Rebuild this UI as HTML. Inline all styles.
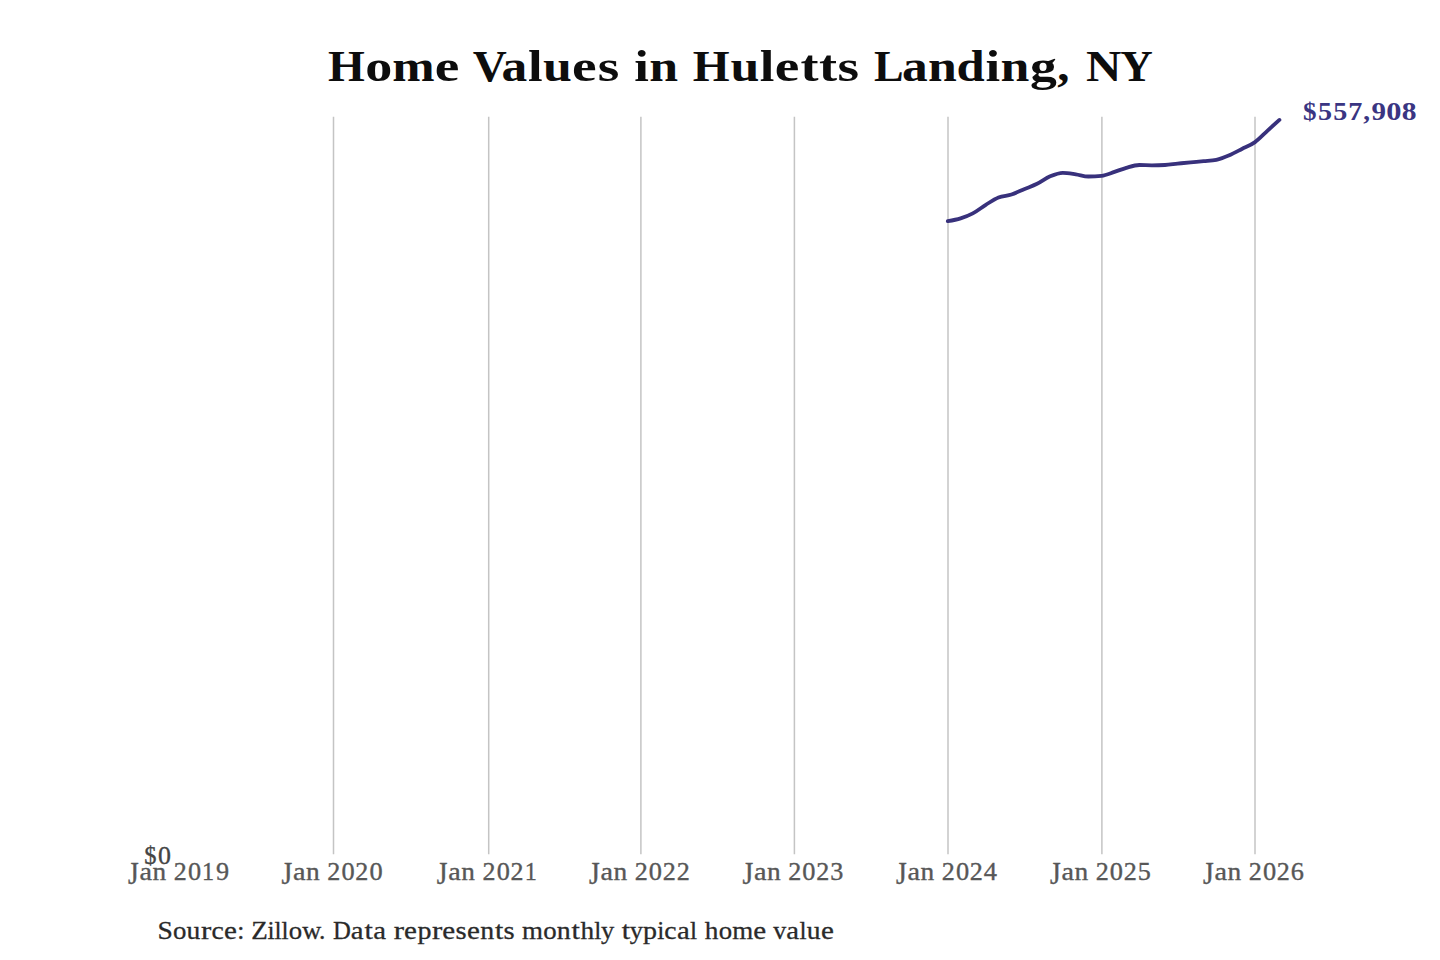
<!DOCTYPE html>
<html><head><meta charset="utf-8"><title>Home Values in Huletts Landing, NY</title>
<style>
html,body{margin:0;padding:0;background:#fff;width:1440px;height:960px;overflow:hidden}
svg{position:absolute;left:0;top:0;display:block}
text{font-family:"Liberation Serif", serif;white-space:pre}
</style></head><body>
<svg width="1440" height="960" viewBox="0 0 1440 960">
<rect width="1440" height="960" fill="#fff"/>
<line x1="333.5" y1="116.8" x2="333.5" y2="854.2" stroke="#c4c4c4" stroke-width="1.5"/>
<line x1="488.7" y1="116.8" x2="488.7" y2="854.2" stroke="#c4c4c4" stroke-width="1.5"/>
<line x1="640.9" y1="116.8" x2="640.9" y2="854.2" stroke="#c4c4c4" stroke-width="1.5"/>
<line x1="794.4" y1="116.8" x2="794.4" y2="854.2" stroke="#c4c4c4" stroke-width="1.5"/>
<line x1="948.0" y1="116.8" x2="948.0" y2="854.2" stroke="#c4c4c4" stroke-width="1.5"/>
<line x1="1101.9" y1="116.8" x2="1101.9" y2="854.2" stroke="#c4c4c4" stroke-width="1.5"/>
<line x1="1255.0" y1="116.8" x2="1255.0" y2="854.2" stroke="#c4c4c4" stroke-width="1.5"/>
<g font-weight="bold" font-size="44.2" fill="#0d0d0d"><text transform="translate(346.48,81.4) scale(1.0727,1)" x="-17.20" y="0">H</text><text transform="translate(378.77,81.4) scale(1.2230,1)" x="-11.05" y="0">o</text><text transform="translate(413.58,81.4) scale(1.1515,1)" x="-18.63" y="0">m</text><text transform="translate(447.25,81.4) scale(1.2538,1)" x="-9.99" y="0">e</text><text transform="translate(489.79,81.4) scale(1.0669,1)" x="-15.96" y="0">V</text><text transform="translate(514.85,81.4) scale(1.1652,1)" x="-11.43" y="0">a</text><text transform="translate(535.29,81.4) scale(1.1903,1)" x="-6.19" y="0">l</text><text transform="translate(557.07,81.4) scale(1.1733,1)" x="-12.03" y="0">u</text><text transform="translate(584.54,81.4) scale(1.2538,1)" x="-9.99" y="0">e</text><text transform="translate(608.72,81.4) scale(1.2536,1)" x="-8.73" y="0">s</text><text transform="translate(641.75,81.4) scale(1.1903,1)" x="-6.30" y="0">i</text><text transform="translate(663.98,81.4) scale(1.1733,1)" x="-12.55" y="0">n</text><text transform="translate(711.29,81.4) scale(1.0727,1)" x="-17.20" y="0">H</text><text transform="translate(744.54,81.4) scale(1.1733,1)" x="-12.03" y="0">u</text><text transform="translate(767.16,81.4) scale(1.1903,1)" x="-6.19" y="0">l</text><text transform="translate(787.26,81.4) scale(1.2538,1)" x="-9.99" y="0">e</text><text transform="translate(809.76,81.4) scale(1.2251,1)" x="-7.62" y="0">t</text><text transform="translate(828.27,81.4) scale(1.2251,1)" x="-7.62" y="0">t</text><text transform="translate(848.49,81.4) scale(1.2536,1)" x="-8.73" y="0">s</text><text transform="translate(888.30,81.4) scale(1.0043,1)" x="-14.19" y="0">L</text><text transform="translate(915.26,81.4) scale(1.1652,1)" x="-11.43" y="0">a</text><text transform="translate(942.70,81.4) scale(1.1733,1)" x="-12.55" y="0">n</text><text transform="translate(971.42,81.4) scale(1.1451,1)" x="-12.94" y="0">d</text><text transform="translate(992.90,81.4) scale(1.1903,1)" x="-6.30" y="0">i</text><text transform="translate(1015.14,81.4) scale(1.1733,1)" x="-12.55" y="0">n</text><text transform="translate(1043.87,81.4) scale(1.2143,1)" x="-11.42" y="0">g</text><text transform="translate(1062.84,81.4) scale(1.1054,1)" x="-4.97" y="0">,</text><text transform="translate(1103.88,81.4) scale(1.1096,1)" x="-16.09" y="0">N</text><text transform="translate(1136.46,81.4) scale(1.0206,1)" x="-15.93" y="0">Y</text></g>
<g font-size="25.6" fill="#575757" stroke="#575757" stroke-width="0.35"><text transform="translate(133.43,883.77) scale(1.0716,1.2117)" x="-4.98" y="0">J</text><text transform="translate(146.06,879.5) scale(1.0994,1)" x="-5.96" y="0">a</text><text transform="translate(159.55,879.5) scale(1.0665,1)" x="-6.50" y="0">n</text><text transform="translate(180.21,879.5) scale(1.0167,1)" x="-6.26" y="0">2</text><text transform="translate(194.54,879.5) scale(1.0264,1)" x="-6.40" y="0">0</text><text transform="translate(208.31,879.5) scale(0.9452,1)" x="-6.76" y="0">1</text><text transform="translate(222.48,879.5) scale(1.0242,1)" x="-6.29" y="0">9</text></g>
<g font-size="25.6" fill="#575757" stroke="#575757" stroke-width="0.35"><text transform="translate(286.93,883.77) scale(1.0754,1.2117)" x="-4.98" y="0">J</text><text transform="translate(299.56,879.5) scale(1.1033,1)" x="-5.96" y="0">a</text><text transform="translate(313.05,879.5) scale(1.0703,1)" x="-6.50" y="0">n</text><text transform="translate(333.71,879.5) scale(1.0203,1)" x="-6.26" y="0">2</text><text transform="translate(348.04,879.5) scale(1.0300,1)" x="-6.40" y="0">0</text><text transform="translate(361.70,879.5) scale(1.0203,1)" x="-6.26" y="0">2</text><text transform="translate(376.02,879.5) scale(1.0300,1)" x="-6.40" y="0">0</text></g>
<g font-size="25.6" fill="#575757" stroke="#575757" stroke-width="0.35"><text transform="translate(442.13,883.77) scale(1.0712,1.2117)" x="-4.98" y="0">J</text><text transform="translate(454.76,879.5) scale(1.0989,1)" x="-5.96" y="0">a</text><text transform="translate(468.25,879.5) scale(1.0661,1)" x="-6.50" y="0">n</text><text transform="translate(488.91,879.5) scale(1.0163,1)" x="-6.26" y="0">2</text><text transform="translate(503.24,879.5) scale(1.0260,1)" x="-6.40" y="0">0</text><text transform="translate(516.90,879.5) scale(1.0163,1)" x="-6.26" y="0">2</text><text transform="translate(531.01,879.5) scale(0.9448,1)" x="-6.76" y="0">1</text></g>
<g font-size="25.6" fill="#575757" stroke="#575757" stroke-width="0.35"><text transform="translate(594.33,883.77) scale(1.0749,1.2117)" x="-4.98" y="0">J</text><text transform="translate(606.96,879.5) scale(1.1027,1)" x="-5.96" y="0">a</text><text transform="translate(620.45,879.5) scale(1.0697,1)" x="-6.50" y="0">n</text><text transform="translate(641.11,879.5) scale(1.0198,1)" x="-6.26" y="0">2</text><text transform="translate(655.44,879.5) scale(1.0295,1)" x="-6.40" y="0">0</text><text transform="translate(669.10,879.5) scale(1.0198,1)" x="-6.26" y="0">2</text><text transform="translate(683.10,879.5) scale(1.0198,1)" x="-6.26" y="0">2</text></g>
<g font-size="25.6" fill="#575757" stroke="#575757" stroke-width="0.35"><text transform="translate(747.83,883.77) scale(1.0749,1.2117)" x="-4.98" y="0">J</text><text transform="translate(760.46,879.5) scale(1.1028,1)" x="-5.96" y="0">a</text><text transform="translate(773.95,879.5) scale(1.0698,1)" x="-6.50" y="0">n</text><text transform="translate(794.61,879.5) scale(1.0199,1)" x="-6.26" y="0">2</text><text transform="translate(808.94,879.5) scale(1.0296,1)" x="-6.40" y="0">0</text><text transform="translate(822.60,879.5) scale(1.0199,1)" x="-6.26" y="0">2</text><text transform="translate(836.95,879.5) scale(1.0218,1)" x="-6.51" y="0">3</text></g>
<g font-size="25.6" fill="#575757" stroke="#575757" stroke-width="0.35"><text transform="translate(901.43,883.77) scale(1.0755,1.2117)" x="-4.98" y="0">J</text><text transform="translate(914.06,879.5) scale(1.1034,1)" x="-5.96" y="0">a</text><text transform="translate(927.55,879.5) scale(1.0704,1)" x="-6.50" y="0">n</text><text transform="translate(948.21,879.5) scale(1.0204,1)" x="-6.26" y="0">2</text><text transform="translate(962.54,879.5) scale(1.0301,1)" x="-6.40" y="0">0</text><text transform="translate(976.20,879.5) scale(1.0204,1)" x="-6.26" y="0">2</text><text transform="translate(990.31,879.5) scale(1.0334,1)" x="-6.45" y="0">4</text></g>
<g font-size="25.6" fill="#575757" stroke="#575757" stroke-width="0.35"><text transform="translate(1055.33,883.77) scale(1.0750,1.2117)" x="-4.98" y="0">J</text><text transform="translate(1067.96,879.5) scale(1.1029,1)" x="-5.96" y="0">a</text><text transform="translate(1081.45,879.5) scale(1.0699,1)" x="-6.50" y="0">n</text><text transform="translate(1102.11,879.5) scale(1.0200,1)" x="-6.26" y="0">2</text><text transform="translate(1116.44,879.5) scale(1.0297,1)" x="-6.40" y="0">0</text><text transform="translate(1130.10,879.5) scale(1.0200,1)" x="-6.26" y="0">2</text><text transform="translate(1144.52,879.5) scale(1.0224,1)" x="-6.64" y="0">5</text></g>
<g font-size="25.6" fill="#575757" stroke="#575757" stroke-width="0.35"><text transform="translate(1208.43,883.77) scale(1.0752,1.2117)" x="-4.98" y="0">J</text><text transform="translate(1221.06,879.5) scale(1.1031,1)" x="-5.96" y="0">a</text><text transform="translate(1234.55,879.5) scale(1.0701,1)" x="-6.50" y="0">n</text><text transform="translate(1255.21,879.5) scale(1.0202,1)" x="-6.26" y="0">2</text><text transform="translate(1269.54,879.5) scale(1.0299,1)" x="-6.40" y="0">0</text><text transform="translate(1283.20,879.5) scale(1.0202,1)" x="-6.26" y="0">2</text><text transform="translate(1297.57,879.5) scale(1.0276,1)" x="-6.57" y="0">6</text></g>
<g font-size="24.8" fill="#444444" stroke="#444444" stroke-width="0.35"><text transform="translate(150.52,863.9) scale(0.9863,1)" x="-6.35" y="0">$</text><text transform="translate(164.48,863.9) scale(1.0425,1)" x="-6.20" y="0">0</text></g>
<g font-size="25.5" fill="#2a2a2a" stroke="#2a2a2a" stroke-width="0.3"><text transform="translate(165.34,938.8) scale(1.0822,1)" x="-7.15" y="0">S</text><text transform="translate(179.57,938.8) scale(1.0507,1)" x="-6.38" y="0">o</text><text transform="translate(193.38,938.8) scale(1.0819,1)" x="-6.33" y="0">u</text><text transform="translate(206.43,938.8) scale(1.2122,1)" x="-4.39" y="0">r</text><text transform="translate(217.65,938.8) scale(1.0840,1)" x="-5.75" y="0">c</text><text transform="translate(230.46,938.8) scale(1.1395,1)" x="-5.72" y="0">e</text><text transform="translate(240.84,938.8) scale(1.0001,1)" x="-3.52" y="0">:</text><text transform="translate(259.51,938.8) scale(1.0615,1)" x="-7.70" y="0">Z</text><text transform="translate(270.93,938.8) scale(0.9955,1)" x="-3.57" y="0">i</text><text transform="translate(277.91,938.8) scale(0.9968,1)" x="-3.54" y="0">l</text><text transform="translate(285.04,938.8) scale(0.9968,1)" x="-3.54" y="0">l</text><text transform="translate(295.35,938.8) scale(1.0507,1)" x="-6.38" y="0">o</text><text transform="translate(311.65,938.8) scale(1.0313,1)" x="-9.16" y="0">w</text><text transform="translate(322.08,938.8) scale(0.9972,1)" x="-3.19" y="0">.</text><text transform="translate(341.66,938.8) scale(0.9687,1)" x="-9.06" y="0">D</text><text transform="translate(357.52,938.8) scale(1.1285,1)" x="-5.93" y="0">a</text><text transform="translate(368.66,938.8) scale(1.1771,1)" x="-3.59" y="0">t</text><text transform="translate(379.81,938.8) scale(1.1285,1)" x="-5.93" y="0">a</text><text transform="translate(399.07,938.8) scale(1.2122,1)" x="-4.39" y="0">r</text><text transform="translate(410.61,938.8) scale(1.1395,1)" x="-5.72" y="0">e</text><text transform="translate(424.12,938.8) scale(1.0980,1)" x="-6.08" y="0">p</text><text transform="translate(437.24,938.8) scale(1.2122,1)" x="-4.39" y="0">r</text><text transform="translate(448.78,938.8) scale(1.1395,1)" x="-5.72" y="0">e</text><text transform="translate(461.18,938.8) scale(1.1218,1)" x="-5.02" y="0">s</text><text transform="translate(473.45,938.8) scale(1.1395,1)" x="-5.72" y="0">e</text><text transform="translate(487.34,938.8) scale(1.0947,1)" x="-6.47" y="0">n</text><text transform="translate(499.16,938.8) scale(1.1771,1)" x="-3.59" y="0">t</text><text transform="translate(509.20,938.8) scale(1.1218,1)" x="-5.02" y="0">s</text><text transform="translate(532.65,938.8) scale(1.0565,1)" x="-9.99" y="0">m</text><text transform="translate(549.85,938.8) scale(1.0507,1)" x="-6.38" y="0">o</text><text transform="translate(563.87,938.8) scale(1.0947,1)" x="-6.47" y="0">n</text><text transform="translate(575.69,938.8) scale(1.1771,1)" x="-3.59" y="0">t</text><text transform="translate(587.22,938.8) scale(1.0703,1)" x="-6.33" y="0">h</text><text transform="translate(597.87,938.8) scale(0.9968,1)" x="-3.54" y="0">l</text><text transform="translate(607.70,938.8) scale(1.0402,1)" x="-6.48" y="0">y</text><text transform="translate(625.89,938.8) scale(1.1771,1)" x="-3.59" y="0">t</text><text transform="translate(636.39,938.8) scale(1.0402,1)" x="-6.48" y="0">y</text><text transform="translate(649.66,938.8) scale(1.0980,1)" x="-6.08" y="0">p</text><text transform="translate(660.76,938.8) scale(0.9955,1)" x="-3.57" y="0">i</text><text transform="translate(670.49,938.8) scale(1.0840,1)" x="-5.75" y="0">c</text><text transform="translate(683.59,938.8) scale(1.1285,1)" x="-5.93" y="0">a</text><text transform="translate(693.57,938.8) scale(0.9968,1)" x="-3.54" y="0">l</text><text transform="translate(711.53,938.8) scale(1.0703,1)" x="-6.33" y="0">h</text><text transform="translate(725.33,938.8) scale(1.0507,1)" x="-6.38" y="0">o</text><text transform="translate(742.75,938.8) scale(1.0565,1)" x="-9.99" y="0">m</text><text transform="translate(759.84,938.8) scale(1.1395,1)" x="-5.72" y="0">e</text><text transform="translate(779.79,938.8) scale(1.0167,1)" x="-6.38" y="0">v</text><text transform="translate(793.05,938.8) scale(1.1285,1)" x="-5.93" y="0">a</text><text transform="translate(803.04,938.8) scale(0.9968,1)" x="-3.54" y="0">l</text><text transform="translate(813.69,938.8) scale(1.0819,1)" x="-6.33" y="0">u</text><text transform="translate(827.60,938.8) scale(1.1395,1)" x="-5.72" y="0">e</text></g>
<g font-weight="bold" font-size="24.6" fill="#3a3582"><text transform="translate(1309.82,119.6) scale(1.0995,1)" x="-6.24" y="0">$</text><text transform="translate(1325.12,119.6) scale(1.1436,1)" x="-6.19" y="0">5</text><text transform="translate(1340.43,119.6) scale(1.1436,1)" x="-6.19" y="0">5</text><text transform="translate(1355.63,119.6) scale(1.1464,1)" x="-6.55" y="0">7</text><text transform="translate(1366.22,119.6) scale(1.0963,1)" x="-2.77" y="0">,</text><text transform="translate(1378.53,119.6) scale(1.1777,1)" x="-6.04" y="0">9</text><text transform="translate(1393.94,119.6) scale(1.2362,1)" x="-6.15" y="0">0</text><text transform="translate(1409.23,119.6) scale(1.2000,1)" x="-6.15" y="0">8</text></g>
<path d="M947.80,221.20 C952.07,220.48 956.33,219.75 960.60,218.40 C964.67,217.11 968.73,215.56 972.80,213.40 C977.13,211.10 981.47,207.48 985.80,204.80 C990.03,202.19 994.27,199.21 998.50,197.50 C1002.83,195.75 1007.17,195.92 1011.50,194.50 C1015.70,193.13 1019.90,190.96 1024.10,189.20 C1028.43,187.39 1032.77,185.94 1037.10,183.80 C1041.47,181.64 1045.83,178.14 1050.20,176.30 C1054.40,174.53 1058.60,172.80 1062.80,172.80 C1067.13,172.80 1071.47,173.67 1075.80,174.30 C1080.00,174.91 1084.20,176.50 1088.40,176.50 C1092.77,176.50 1097.13,176.27 1101.50,175.80 C1105.83,175.34 1110.17,173.31 1114.50,171.90 C1118.43,170.62 1122.37,168.92 1126.30,167.80 C1130.63,166.57 1134.97,165.00 1139.30,165.00 C1143.50,165.00 1147.70,165.30 1151.90,165.30 C1156.27,165.30 1160.63,165.20 1165.00,165.00 C1169.20,164.81 1173.40,164.03 1177.60,163.60 C1181.93,163.16 1186.27,162.80 1190.60,162.40 C1194.97,162.00 1199.33,161.64 1203.70,161.20 C1207.90,160.77 1212.10,160.73 1216.30,159.80 C1220.63,158.84 1224.97,157.14 1229.30,155.30 C1233.50,153.52 1237.70,151.16 1241.90,149.00 C1246.27,146.76 1250.63,145.26 1255.00,142.10 C1259.20,139.06 1263.40,134.42 1267.60,130.60 C1271.53,127.02 1275.47,123.46 1279.40,119.90" fill="none" stroke="#38317c" stroke-width="3.8" stroke-linecap="round" stroke-linejoin="round"/>
</svg>
</body></html>
